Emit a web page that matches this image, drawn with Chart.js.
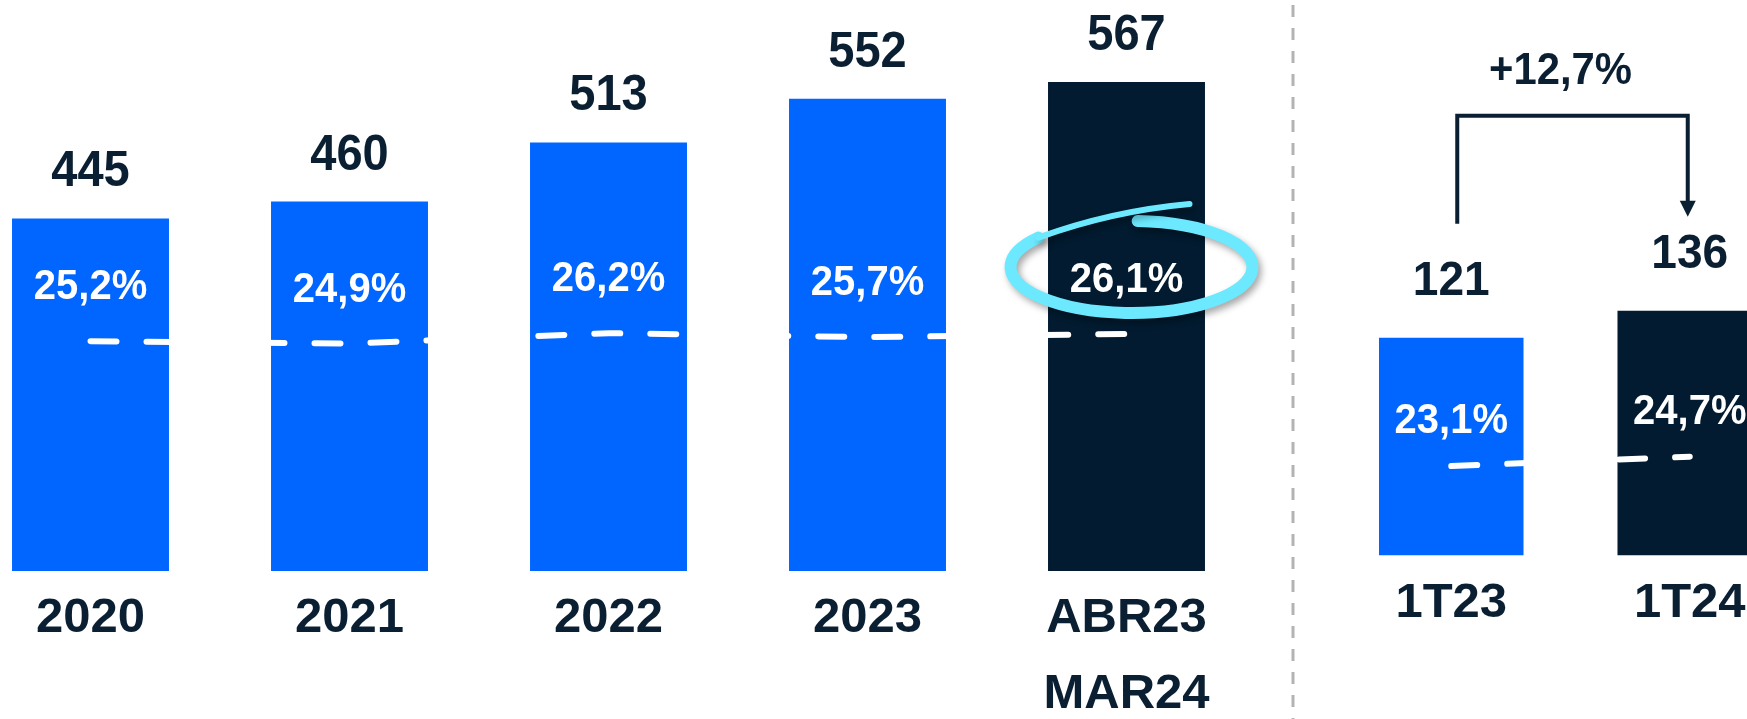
<!DOCTYPE html>
<html>
<head>
<meta charset="utf-8">
<script src="https://cdn.jsdelivr.net/npm/chart.js@4.4.1/dist/chart.umd.min.js"></script>
<style>
  html, body { margin: 0; padding: 0; width: 1747px; height: 719px; overflow: hidden; background: #fff; }
  #left { position: absolute; left: -39px; top: 0; width: 1320px; height: 719px; }
  #right { position: absolute; left: 1280px; top: 0; width: 529px; height: 719px; }
</style>
</head>
<body>
<div id="left"><canvas id="yearChart"></canvas></div>
<div id="right"><canvas id="quarterChart"></canvas></div>
<script>
// annual data (left panel)
const yearLabels = ['2020', '2021', '2022', '2023', ['ABR23', 'MAR24']];
const yearValues = [445, 460, 513, 552, 567];
const yearMargin = [25.2, 24.9, 26.2, 25.7, 26.1];

// quarter data (right panel)
const quarterLabels = ['1T23', '1T24'];
const quarterValues = [121, 136];
const quarterMargin = [23.1, 24.7];
const growthLabel = '+12,7%';

const FONT = "'Liberation Sans', Arial, sans-serif";
const BLUE = '#0066FF';
const NAVY = '#021B30';
const INK = '#0B1F33';
const CYAN = '#6DE9FF';

const fmtPct = v => v.toFixed(1).replace('.', ',') + '%';

// text squeezed a little, the original font is narrower
function narrowText(ctx, text, x, y, sx) {
    ctx.save();
    ctx.translate(x, y);
    ctx.scale(sx, 1);
    ctx.fillText(text, 0, 0);
    ctx.restore();
}

function labelsPlugin(valueGap, pctGap, valueSize) {
    return {
        id: 'labels',
        afterDatasetsDraw(chart) {
            const ctx = chart.ctx;
            const bars = chart.getDatasetMeta(0).data;
            const pts = chart.getDatasetMeta(1).data;
            const vals = chart.data.datasets[0].data;
            const pcts = chart.data.datasets[1].data;
            ctx.save();
            ctx.textAlign = 'center';
            ctx.textBaseline = 'alphabetic';
            bars.forEach((b, i) => {
                ctx.fillStyle = INK;
                ctx.font = 'bold ' + valueSize + 'px ' + FONT;
                narrowText(ctx, String(vals[i]), b.x, b.y - valueGap, 0.94);
                ctx.fillStyle = '#fff';
                ctx.font = 'bold 43px ' + FONT;
                narrowText(ctx, fmtPct(pcts[i]), b.x, pts[i].y - pctGap, 0.93);
            });
            ctx.restore();
        }
    };
}

// hand-drawn ring around the last margin label
const ringPlugin = {
    id: 'ring',
    afterDraw(chart) {
        const pts = chart.getDatasetMeta(1).data;
        const p = pts[pts.length - 1];
        const cx = p.x + 5, cy = p.y - 67;
        const rx = 121, ry = 46;
        const ctx = chart.ctx;
        ctx.save();
        ctx.strokeStyle = CYAN;
        ctx.lineCap = 'round';
        ctx.shadowColor = 'rgba(0,0,0,0.35)';
        ctx.shadowBlur = 7;
        ctx.shadowOffsetX = 3;
        ctx.shadowOffsetY = 4;
        ctx.lineWidth = 12;
        ctx.beginPath();
        ctx.ellipse(cx, cy, rx, ry, 0, -1.52, Math.PI * 1.22);
        ctx.stroke();
        // tail going up to the right
        const a = Math.PI * 1.22;
        ctx.lineWidth = 6;
        ctx.beginPath();
        ctx.moveTo(cx + rx * Math.cos(a), cy + ry * Math.sin(a));
        ctx.quadraticCurveTo(cx - 20, cy - 56, cx + 58, cy - 63);
        ctx.stroke();
        ctx.restore();
    }
};

// separator + growth bracket (right panel)
const bracketPlugin = {
    id: 'bracket',
    afterDraw(chart) {
        const ctx = chart.ctx;
        const bars = chart.getDatasetMeta(0).data;
        ctx.save();
        ctx.strokeStyle = '#B3B3B3';
        ctx.lineWidth = 3;
        ctx.setLineDash([12, 11]);
        ctx.beginPath();
        ctx.moveTo(13, 5);
        ctx.lineTo(13, chart.height);
        ctx.stroke();
        ctx.setLineDash([]);

        const x0 = bars[0].x + 6, x1 = bars[1].x - 2;
        const yTop = bars[1].y - 195;
        ctx.strokeStyle = INK;
        ctx.fillStyle = INK;
        ctx.lineWidth = 4;
        ctx.beginPath();
        ctx.moveTo(x0, bars[0].y - 114);
        ctx.lineTo(x0, yTop);
        ctx.lineTo(x1, yTop);
        ctx.lineTo(x1, bars[1].y - 108);
        ctx.stroke();
        const tip = bars[1].y - 94;
        ctx.beginPath();
        ctx.moveTo(x1 - 8, tip - 16);
        ctx.lineTo(x1 + 8, tip - 16);
        ctx.lineTo(x1, tip);
        ctx.closePath();
        ctx.fill();

        ctx.font = 'bold 44px ' + FONT;
        ctx.textAlign = 'center';
        ctx.textBaseline = 'alphabetic';
        narrowText(ctx, growthLabel, (x0 + x1) / 2 - 12, bars[1].y - 227, 0.95);
        ctx.restore();
    }
};

function makeChart(id, labels, values, margins, colors, opts) {
    return new Chart(document.getElementById(id), {
        type: 'bar',
        data: {
            labels: labels,
            datasets: [{
                data: values,
                backgroundColor: colors,
                categoryPercentage: 1,
                barPercentage: 0.606,
                order: 1
            }, {
                type: 'line',
                data: margins,
                yAxisID: 'y2',
                borderColor: '#fff',
                borderWidth: 6,
                borderDash: [26, 30],
                borderCapStyle: 'round',
                pointRadius: 0,
                tension: 0,
                fill: false,
                order: 0
            }]
        },
        options: {
            responsive: true,
            maintainAspectRatio: false,
            animation: false,
            layout: { padding: opts.padding },
            plugins: { legend: { display: false }, tooltip: { enabled: false } },
            scales: {
                x: {
                    grid: { display: false },
                    border: { display: false },
                    ticks: {
                        color: INK,
                        padding: opts.tickPad,
                        font: { family: FONT, size: 49, weight: 'bold', lineHeight: 1.56 }
                    },
                    afterFit: s => { s.height = opts.axisHeight; }
                },
                y: { display: false, min: opts.yMin, max: opts.yMax },
                y2: { display: false, min: opts.y2Min, max: opts.y2Max }
            }
        },
        plugins: opts.plugins
    });
}

makeChart('yearChart', yearLabels, yearValues, yearMargin,
    [BLUE, BLUE, BLUE, BLUE, NAVY], {
        padding: { left: 0, right: 25, top: 0, bottom: 0 },
        tickPad: 1,
        axisHeight: 148,
        yMin: 129.5, yMax: 640.4,
        y2Min: -3.55, y2Max: 67.87,
        plugins: [labelsPlugin(32, 42, 50), ringPlugin]
    });

makeChart('quarterChart', quarterLabels, quarterValues, quarterMargin,
    [BLUE, NAVY], {
        padding: { left: 52, right: 0, top: 0, bottom: 0 },
        tickPad: 2,
        axisHeight: 163.5,
        yMin: 0, yMax: 308.6,
        y2Min: 7.7, y2Max: 103.3,
        plugins: [labelsPlugin(43, 33, 49), bracketPlugin]
    });
</script>
</body>
</html>
